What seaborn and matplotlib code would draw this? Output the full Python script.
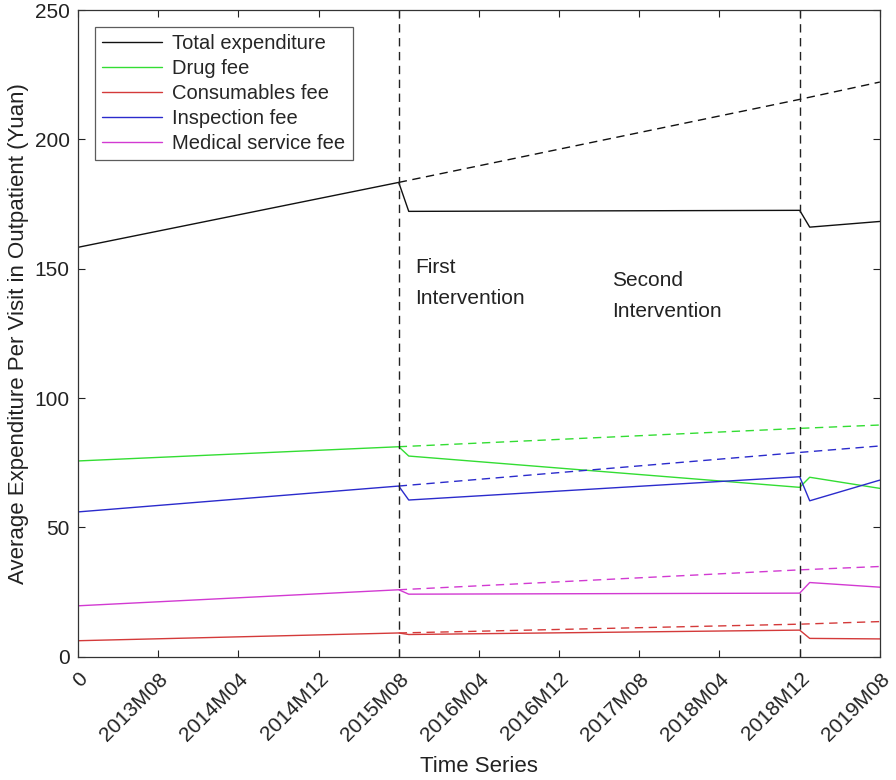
import numpy as np
import pandas as pd
import seaborn as sns
import matplotlib.pyplot as plt

# months since start; breakpoints of the segmented fits
months = [0, 32, 33, 72, 73, 80]
months_cf = [32, 72, 80]  # counterfactual (dashed) trend

series = ['Total expenditure', 'Drug fee', 'Consumables fee',
          'Inspection fee', 'Medical service fee']
colors = ['#111111', '#33dd33', '#d43a3a', '#2b2bcc', '#d23ad2']

total = [158.3, 183.4, 172.2, 172.6, 166.1, 168.3]
drug = [75.7, 81.2, 77.6, 65.5, 69.4, 65.1]
consumables = [6.2, 9.2, 8.6, 10.3, 7.1, 6.9]
inspection = [56.0, 66.0, 60.6, 69.6, 60.3, 68.3]
medical = [19.7, 25.9, 24.2, 24.6, 28.7, 26.9]

total_cf = [183.4, 215.5, 222.2]
drug_cf = [81.2, 88.3, 89.6]
consumables_cf = [9.2, 12.6, 13.6]
inspection_cf = [66.0, 79.0, 81.5]
medical_cf = [25.9, 33.6, 34.9]

tick_pos = [0, 8, 16, 24, 32, 40, 48, 56, 64, 72, 80]
tick_lab = ['0', '2013M08', '2014M04', '2014M12', '2015M08', '2016M04',
            '2016M12', '2017M08', '2018M04', '2018M12', '2019M08']
interventions = [32, 72]

obs = pd.DataFrame({
    'month': months * 5,
    'value': total + drug + consumables + inspection + medical,
    'series': np.repeat(series, len(months)),
})
cf = pd.DataFrame({
    'month': months_cf * 5,
    'value': total_cf + drug_cf + consumables_cf + inspection_cf + medical_cf,
    'series': np.repeat(series, len(months_cf)),
})

sns.set_style('ticks')
plt.rcParams['font.family'] = ['Liberation Sans', 'DejaVu Sans']
plt.rcParams['xtick.direction'] = 'in'
plt.rcParams['ytick.direction'] = 'in'

fig = plt.figure(figsize=(8.96, 7.8), dpi=100)
ax = fig.add_axes([0.087, 0.158, 0.895, 0.829])

pal = dict(zip(series, colors))
sns.lineplot(data=obs, x='month', y='value', hue='series', palette=pal,
             hue_order=series, linewidth=1.0, ax=ax, sort=False)
sns.lineplot(data=cf, x='month', y='value', hue='series', palette=pal,
             hue_order=series, linewidth=1.0, ax=ax, legend=False,
             dashes=False, linestyle=(0, (6, 4)))

for v in interventions:
    ax.axvline(v, color='#222222', lw=1.0, ls=(0, (6, 4)))

ax.text(33.6, 135, 'First\nIntervention', fontsize=15, va='bottom', ha='left',
        linespacing=1.75, color='#222222')
ax.text(53.3, 130, 'Second\nIntervention', fontsize=15, va='bottom', ha='left',
        linespacing=1.75, color='#222222')

ax.set_xlim(0, 80)
ax.set_ylim(0, 250)
ax.set_xticks(tick_pos)
ax.set_xticklabels(tick_lab, rotation=45, ha='right', rotation_mode='anchor')
ax.set_yticks([0, 50, 100, 150, 200, 250])
ax.tick_params(axis='both', labelsize=15, top=True, right=True, length=5,
               width=0.8, colors='#222222', labelcolor='#222222', pad=6)
ax.tick_params(axis='x', pad=9)
for s in ax.spines.values():
    s.set_linewidth(0.9)
    s.set_color('#333333')

ax.set_xlabel('Time Series', fontsize=16, color='#222222', labelpad=8)
ax.set_ylabel('Average Expenditure Per Visit in Outpatient (Yuan)', fontsize=16,
              color='#222222', labelpad=4)

leg = ax.legend(loc='upper left', bbox_to_anchor=(0.021, 0.974), fontsize=14.5,
                frameon=True, fancybox=False, edgecolor='#333333',
                handlelength=3.0, handletextpad=0.5, labelspacing=0.3,
                borderpad=0.35, borderaxespad=0, title=None)
leg.get_frame().set_linewidth(0.9)

fig.savefig('out.png', dpi=100)
